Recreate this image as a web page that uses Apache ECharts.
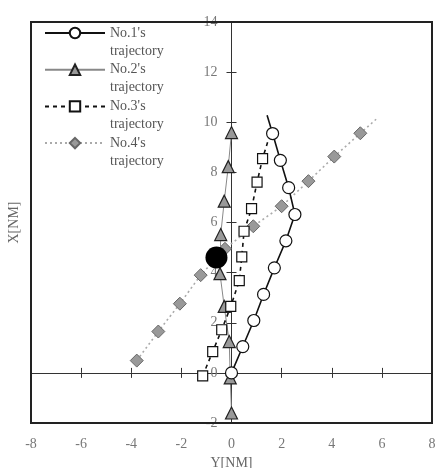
<!DOCTYPE html>
<html><head><meta charset="utf-8">
<script src="https://cdn.jsdelivr.net/npm/echarts@6/dist/echarts.min.js"></script>
<style>html,body{margin:0;padding:0;background:#fff}#c{width:442px;height:468px}</style>
</head><body><div id="c"></div>
<script>
// Horizontal axis: Y[NM]; vertical axis: X[NM]
var seriesNames = ["No.1's trajectory", "No.2's trajectory", "No.3's trajectory", "No.4's trajectory"];
var s1H = [0, 0.45, 0.89, 1.28, 1.71, 2.17, 2.53, 2.28, 1.95, 1.64];
var s1V = [0, 1.05, 2.09, 3.13, 4.19, 5.27, 6.32, 7.39, 8.48, 9.55];
var s1TailH = 1.42, s1TailV = 10.28;
var s2H = [0, -0.05, -0.09, -0.29, -0.46, -0.43, -0.29, -0.13, 0];
var s2V = [-1.6, -0.2, 1.25, 2.65, 3.96, 5.52, 6.85, 8.23, 9.59];
var s3H = [-1.15, -0.75, -0.39, -0.03, 0.31, 0.41, 0.5, 0.8, 1.02, 1.24];
var s3V = [-0.12, 0.85, 1.72, 2.65, 3.68, 4.63, 5.65, 6.55, 7.61, 8.55];
var s3TailH = 1.44, s3TailV = 9.2;
var s4H = [-3.78, -2.92, -2.06, -1.23, -0.26, 0.87, 2.0, 3.07, 4.1, 5.14];
var s4V = [0.49, 1.65, 2.76, 3.9, 4.95, 5.85, 6.65, 7.65, 8.63, 9.56];
var s4TailH = 5.77, s4TailV = 10.12;
var ownShipH = [-0.6], ownShipV = [4.6];
var xTicks = [-8, -6, -4, -2, 0, 2, 4, 6, 8];
var yTicks = [-2, 0, 2, 4, 6, 8, 10, 12, 14];

function pts(h, v) { return h.map(function (x, i) { return [x, v[i]]; }); }
function withTail(h, v, th, tv) { var d = pts(h, v); d.push({ value: [th, tv], symbol: 'none' }); return d; }

var font = 'Liberation Serif';
var G = { left: 31, top: 22, width: 401, height: 401 };
var xMin = xTicks[0], xMax = xTicks[xTicks.length - 1];
var yMin = yTicks[0], yMax = yTicks[yTicks.length - 1];
// offsets that put the crossing axes at the zero values
var yAxisOffset = -G.width * (0 - xMin) / (xMax - xMin);
var xAxisOffset = -G.height * (0 - yMin) / (yMax - yMin);

var chart = echarts.init(document.getElementById('c'));
chart.setOption({
  animation: false,
  textStyle: { fontFamily: font },
  grid: { left: G.left, top: G.top, width: G.width, height: G.height, containLabel: false, outerBoundsMode: 'none',
    show: true, borderColor: '#222', borderWidth: 2, backgroundColor: 'transparent', z: 10 },
  legend: {
    left: 39, top: 21, orient: 'vertical', itemWidth: 60, itemHeight: 13, itemGap: 4.7,
    data: seriesNames,
    formatter: function (n) { var p = n.split(' '); return '{a|' + p[0] + '}\n{b|' + p[1] + '}'; },
    textStyle: { fontFamily: font, fontSize: 14, color: '#555',
      rich: { a: { lineHeight: 36, fontFamily: font, fontSize: 14, color: '#555' },
              b: { lineHeight: 0, fontFamily: font, fontSize: 14, color: '#555' } } }
  },
  xAxis: [
    { type: 'value', min: xMin, max: xMax, interval: 2, position: 'bottom',
      axisLine: { show: false, onZero: false }, axisTick: { show: false }, splitLine: { show: false },
      axisLabel: { margin: 14, color: '#777', fontFamily: font, fontSize: 14 },
      name: 'Y[NM]', nameLocation: 'middle', nameGap: 31, nameTextStyle: { color: '#666', fontFamily: font, fontSize: 14 } },
    { type: 'value', min: xMin, max: xMax, interval: 2, position: 'bottom', offset: xAxisOffset,
      axisLine: { show: true, onZero: false, lineStyle: { color: '#333', width: 1 } },
      axisTick: { show: true, inside: false, length: 5, lineStyle: { color: '#333' } },
      axisLabel: { show: false }, splitLine: { show: false } },
    { type: 'value', min: xMin, max: xMax, interval: 2, position: 'bottom', offset: xAxisOffset,
      axisLine: { show: false, onZero: false },
      axisTick: { show: true, inside: true, length: 5, lineStyle: { color: '#333' } },
      axisLabel: { show: false }, splitLine: { show: false } }
  ],
  yAxis: [
    { type: 'value', min: yMin, max: yMax, interval: 2, position: 'left', offset: yAxisOffset,
      axisLine: { show: true, onZero: false, lineStyle: { color: '#333', width: 1 } },
      axisTick: { show: true, inside: false, length: 5, lineStyle: { color: '#333' } },
      axisLabel: { margin: 14, color: '#777', fontFamily: font, fontSize: 14 }, splitLine: { show: false } },
    { type: 'value', min: yMin, max: yMax, interval: 2, position: 'left', offset: yAxisOffset,
      axisLine: { show: false, onZero: false },
      axisTick: { show: true, inside: true, length: 5, lineStyle: { color: '#333' } },
      axisLabel: { show: false }, splitLine: { show: false } },
    { type: 'value', min: yMin, max: yMax, interval: 2, position: 'left',
      axisLine: { show: false, onZero: false }, axisTick: { show: false }, axisLabel: { show: false }, splitLine: { show: false },
      name: 'X[NM]', nameLocation: 'middle', nameGap: 10, nameRotate: 90, nameTextStyle: { color: '#666', fontFamily: font, fontSize: 14 } }
  ],
  series: [
    { name: seriesNames[0], type: 'line', data: withTail(s1H, s1V, s1TailH, s1TailV), symbol: 'circle', symbolSize: 12,
      lineStyle: { color: '#111', width: 1.6 }, itemStyle: { color: '#fff', borderColor: '#111', borderWidth: 1.2 }, z: 5 },
    { name: seriesNames[1], type: 'line', data: pts(s2H, s2V), symbol: 'triangle', symbolSize: 12,
      lineStyle: { color: '#888', width: 1 }, itemStyle: { color: '#999', borderColor: '#222', borderWidth: 1.2 }, z: 4 },
    { name: seriesNames[2], type: 'line', data: withTail(s3H, s3V, s3TailH, s3TailV), symbol: 'rect', symbolSize: 10,
      lineStyle: { color: '#111', width: 1.6, type: [4, 4] }, itemStyle: { color: '#fff', borderColor: '#111', borderWidth: 1.2 }, z: 4 },
    { name: seriesNames[3], type: 'line', data: withTail(s4H, s4V, s4TailH, s4TailV), symbol: 'diamond', symbolSize: 13,
      lineStyle: { color: '#aaa', width: 1.6, type: [2, 3] }, itemStyle: { color: '#999', borderColor: '#666', borderWidth: 1 }, z: 3 },
    { name: 'own', type: 'scatter', data: pts(ownShipH, ownShipV), symbol: 'circle', symbolSize: 22,
      itemStyle: { color: '#000', opacity: 1 }, z: 6 }
  ]
});
</script></body></html>
